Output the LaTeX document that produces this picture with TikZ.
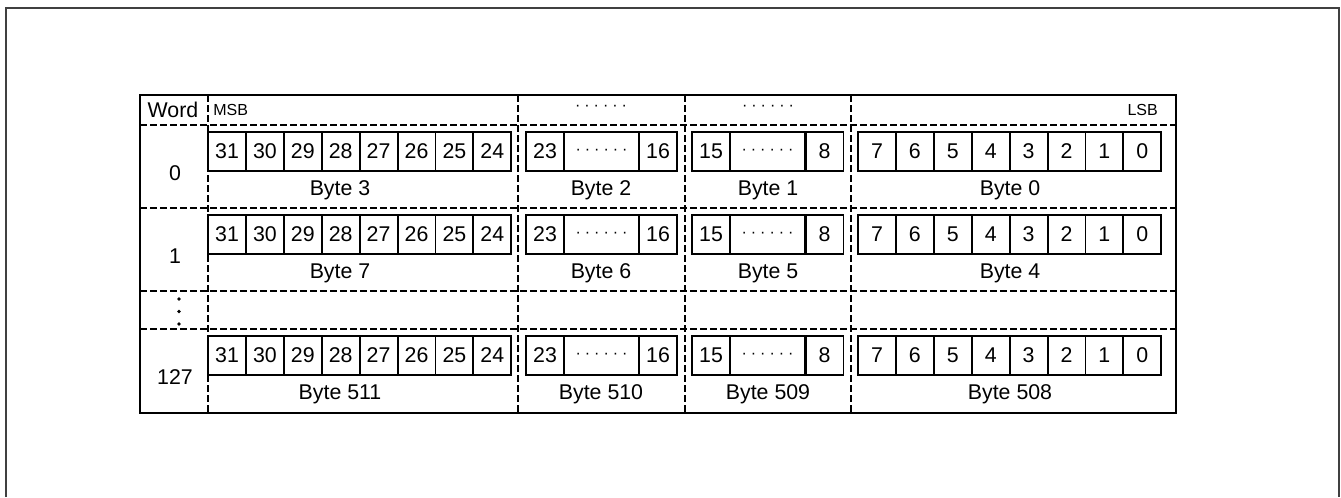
\documentclass[tikz,border=0pt]{standalone}
\usepackage{fontspec}
\setmainfont{Liberation Sans}
\usetikzlibrary{positioning}
\definecolor{griCadre}{RGB}{64, 64, 64}
\definecolor{noirTrait}{RGB}{0, 0, 0}
\newcommand{\sixpoints}{·\hspace{3pt}·\hspace{3pt}·\hspace{3pt}·\hspace{3pt}·\hspace{3pt}·}

\begin{document}
\begin{tikzpicture}[x=0.75pt, y=-0.75pt,
  bit/.style={draw=noirTrait, line width=1.4pt, inner sep=0pt, outer sep=0pt,
    minimum width=28.4pt, minimum height=28.7pt,
    font=\fontsize{16pt}{19pt}\selectfont},
  txt/.style={inner sep=0pt, font=\fontsize{16pt}{19pt}\selectfont},
  petit/.style={inner sep=0pt, font=\fontsize{12pt}{14pt}\selectfont},
  grille/.style={line width=1.4pt, dash pattern=on 5pt off 2.5pt},
  cadre/.style={draw=griCadre, line width=1.5pt},
]
\useasboundingbox (0,0) rectangle (1341,497);
\draw[cadre] (6,497) -- (6,8) -- (1339,8) -- (1339,497);

% table corners
\coordinate (hg) at (140,95);
\coordinate (bd) at (1176,413);

% dashed grid
\foreach \yy in {125,208,291,329}
  \draw[grille] (140,\yy) -- (1176,\yy);
\foreach \xx in {208,518,685,851}
  \draw[grille] (\xx,95) -- (\xx,413);

% header row
\node[txt]                (word) at (173,110)  {Word};
\node[petit, anchor=west] (msb)  at (213,110)  {MSB};
\node[petit]              (hd2)  at (601,108)  {\sixpoints};
\node[petit]              (hd1)  at (768,108)  {\sixpoints};
\node[petit, anchor=east] (lsb)  at (1158,110) {LSB};

% word rows
\foreach \rg/\yy/\mot/\oA/\oB/\oC/\oD in
    {0/125/0/3/2/1/0, 1/208/1/7/6/5/4, 2/329/127/511/510/509/508}{
  \node[txt] (mot\rg) at (175,\yy+48) {\mot};
  \foreach \bt [count=\k from 0] in {31,30,...,24}
    \node[bit] (b\rg-\bt) at ({227+\k*37.9},\yy+26.5) {\bt};
  \node[bit] (b\rg-23) at (545,\yy+26.5) {23};
  \node[bit, minimum width=56.25pt, font=\fontsize{12pt}{14pt}\selectfont]
    (b\rg-m2) at (601.5,\yy+26.5) {\sixpoints};
  \node[bit] (b\rg-16) at (658,\yy+26.5) {16};
  \node[bit] (b\rg-15) at (711,\yy+26.5) {15};
  \node[bit, minimum width=56.25pt, font=\fontsize{12pt}{14pt}\selectfont]
    (b\rg-m1) at (767.5,\yy+26.5) {\sixpoints};
  \node[bit] (b\rg-8) at (824.5,\yy+26.5) {8};
  \foreach \bt [count=\k from 0] in {7,6,...,0}
    \node[bit] (b\rg-\bt) at ({877+\k*37.9},\yy+26.5) {\bt};
  \node[txt] (oct\rg-3) at (340,\yy+65)  {Byte \oA};
  \node[txt] (oct\rg-2) at (601,\yy+65)  {Byte \oB};
  \node[txt] (oct\rg-1) at (768,\yy+65)  {Byte \oC};
  \node[txt] (oct\rg-0) at (1010,\yy+65) {Byte \oD};
}

% vertical dots
\foreach \yy in {299,311.5,324}
  \fill (179,\yy) circle (1.8);

\draw[line width=1.5pt] (hg) rectangle (bd);
\end{tikzpicture}
\end{document}
